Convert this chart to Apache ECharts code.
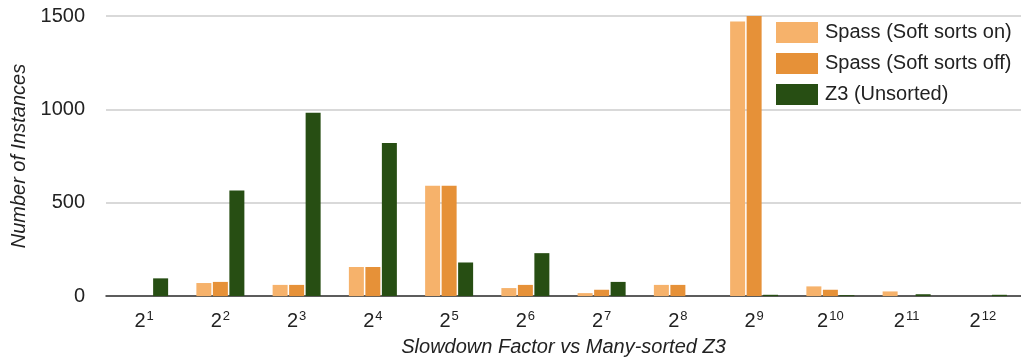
<!DOCTYPE html>
<html>
<head>
<meta charset="utf-8">
<script src="https://cdn.jsdelivr.net/npm/echarts@6/dist/echarts.min.js"></script>
<style>
  html, body { margin: 0; padding: 0; background: #fff; }
  #chart { width: 1021px; height: 362px; }
</style>
</head>
<body>
<div id="chart"></div>
<script>
// slowdown buckets: 2^1 .. 2^12, exponent shown as superscript
const exponents = ['1', '2', '3', '4', '5', '6', '7', '8', '9', '10', '11', '12'];

// instance counts
const spassSoftOn  = [0, 70, 60, 156, 591, 43, 16, 60, 1470, 52, 25, 0];
const spassSoftOff = [0, 76, 60, 156, 591, 60, 34, 60, 1500, 34, 0, 0];
const z3Unsorted   = [95, 566, 982, 820, 180, 230, 76, 0, 7, 5, 10, 7];

const yTicks = [0, 500, 1000, 1500];

const seriesNames = ['Spass (Soft sorts on)', 'Spass (Soft sorts off)', 'Z3 (Unsorted)'];
const colors = ['#f6b26b', '#e69138', '#274e13'];

const chart = echarts.init(document.getElementById('chart'));

const font = 'Liberation Sans, Arial, sans-serif';
const textColor = '#222';

function barSeries(name, data, color) {
    return {
        name: name,
        type: 'bar',
        data: data,
        barWidth: 15,
        barGap: '10%',
        itemStyle: { color: color }
    };
}

const option = {
    animation: false,
    textStyle: { fontFamily: font },
    grid: { left: 106, right: 0, top: 16, bottom: 65 },
    legend: {
        orient: 'vertical',
        left: 776,
        top: 22,
        padding: 0,
        itemWidth: 42,
        itemHeight: 21,
        itemGap: 10,
        icon: 'rect',
        textStyle: { fontSize: 20, lineHeight: 21, color: textColor, fontFamily: font, padding: [0, 0, 0, 2] },
        data: seriesNames
    },
    xAxis: {
        type: 'category',
        data: exponents,
        name: 'Slowdown Factor vs Many-sorted Z3',
        nameLocation: 'middle',
        nameGap: 40,
        nameTextStyle: { fontSize: 20, fontStyle: 'italic', color: textColor, fontFamily: font },
        axisTick: { show: false },
        axisLine: { lineStyle: { color: '#333', width: 1.5 } },
        axisLabel: {
            margin: 14,
            formatter: e => '{b|2}{s|' + e + '}',
            rich: {
                b: { fontSize: 20, color: textColor, fontFamily: font, lineHeight: 22 },
                s: { fontSize: 13, color: textColor, fontFamily: font, lineHeight: 22, padding: [0, 0, 9, 1] }
            }
        }
    },
    yAxis: {
        type: 'value',
        min: yTicks[0],
        max: yTicks[yTicks.length - 1],
        interval: yTicks[1] - yTicks[0],
        name: 'Number of Instances',
        nameLocation: 'middle',
        nameGap: 74,
        nameTextStyle: { fontSize: 20, fontStyle: 'italic', color: textColor, fontFamily: font },
        axisLine: { show: false },
        axisTick: { show: false },
        axisLabel: { fontSize: 20, color: textColor, margin: 21, fontFamily: font, formatter: v => String(v) },
        splitLine: { lineStyle: { color: '#cccccc', width: 1.5 } }
    },
    series: [
        barSeries(seriesNames[0], spassSoftOn, colors[0]),
        barSeries(seriesNames[1], spassSoftOff, colors[1]),
        barSeries(seriesNames[2], z3Unsorted, colors[2])
    ]
};

chart.setOption(option);
</script>
</body>
</html>
